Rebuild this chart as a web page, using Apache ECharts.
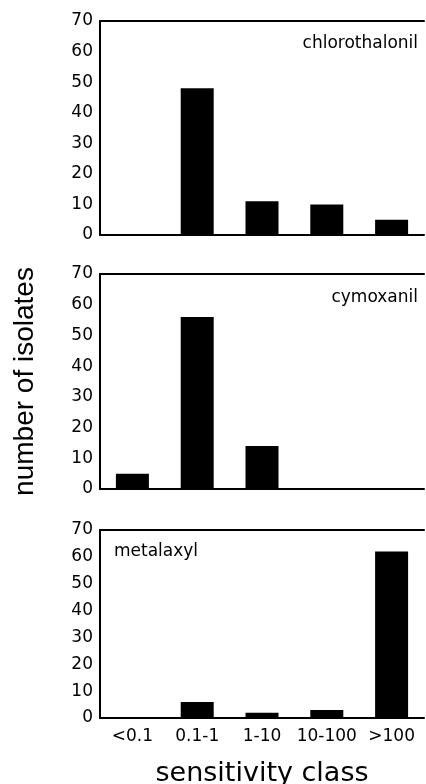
<!DOCTYPE html>
<html>
<head>
<meta charset="utf-8">
<script src="https://cdn.jsdelivr.net/npm/echarts@6/dist/echarts.min.js"></script>
<style>
  html, body { margin: 0; padding: 0; background: #fff; }
  #chart { width: 426px; height: 784px; }
</style>
</head>
<body>
<div id="chart"></div>
<script>
const categories = ['<0.1', '0.1-1', '1-10', '10-100', '>100'];
const chlorothalonil = [0, 48, 11, 10, 5];
const cymoxanil = [5, 56, 14, 0, 0];
const metalaxyl = [0, 6, 2, 3, 62];
const panelNames = ['chlorothalonil', 'cymoxanil', 'metalaxyl'];
const yMin = 0, yMax = 70, yStep = 10;

document.addEventListener('DOMContentLoaded', () => {
    const chart = echarts.init(document.getElementById('chart'));
    const font = 'DejaVu Sans';
    const panels = [chlorothalonil, cymoxanil, metalaxyl];

    const grids = [
        { left: 100, right: 2, top: 21, height: 214, outerBoundsMode: 'none', containLabel: false },
        { left: 100, right: 2, top: 274, height: 215, outerBoundsMode: 'none', containLabel: false },
        { left: 100, right: 2, top: 530, height: 188, outerBoundsMode: 'none', containLabel: false }
    ];

    const xAxes = [];
    const yAxes = [];
    const series = [];
    grids.forEach((g, i) => {
        const last = i === grids.length - 1;
        xAxes.push({
            type: 'category',
            gridIndex: i,
            data: categories,
            axisLine: { lineStyle: { color: '#000', width: 2 } },
            axisTick: { show: false },
            axisLabel: {
                show: last,
                interval: 0,
                color: '#000',
                fontFamily: font,
                fontSize: 17,
                margin: 10
            },
            name: last ? 'sensitivity class' : '',
            nameLocation: 'middle',
            nameGap: 42,
            nameTextStyle: { color: '#000', fontFamily: font, fontSize: 27 }
        });
        // top frame line
        xAxes.push({
            type: 'category',
            gridIndex: i,
            position: 'top',
            data: categories,
            axisLine: { lineStyle: { color: '#000', width: 2 } },
            axisTick: { show: false },
            axisLabel: { show: false }
        });
        yAxes.push({
            type: 'value',
            gridIndex: i,
            min: yMin,
            max: yMax,
            interval: yStep,
            splitLine: { show: false },
            axisTick: { show: false },
            axisLine: { show: true, lineStyle: { color: '#000', width: 2 } },
            axisLabel: { color: '#000', fontFamily: font, fontSize: 17, margin: 7 },
            name: i === 1 ? 'number of isolates' : '',
            nameLocation: 'middle',
            nameGap: 61,
            nameTextStyle: { color: '#000', fontFamily: 'Liberation Sans', fontSize: 28 }
        });
        series.push({
            type: 'bar',
            name: panelNames[i],
            xAxisIndex: i * 2,
            yAxisIndex: i,
            data: panels[i],
            barWidth: 33,
            itemStyle: { color: '#000' }
        });
    });

    chart.setOption({
        animation: false,
        title: [
            { text: panelNames[0], right: 8, top: 35, padding: 0,
              textStyle: { color: '#000', fontFamily: font, fontSize: 17, fontWeight: 'normal' } },
            { text: panelNames[1], right: 8, top: 289, padding: 0,
              textStyle: { color: '#000', fontFamily: font, fontSize: 17, fontWeight: 'normal' } },
            { text: panelNames[2], left: 114, top: 543, padding: 0,
              textStyle: { color: '#000', fontFamily: font, fontSize: 17, fontWeight: 'normal' } }
        ],
        grid: grids,
        xAxis: xAxes,
        yAxis: yAxes,
        series: series
    });

    window.addEventListener('resize', () => chart.resize());
});
</script>
</body>
</html>
